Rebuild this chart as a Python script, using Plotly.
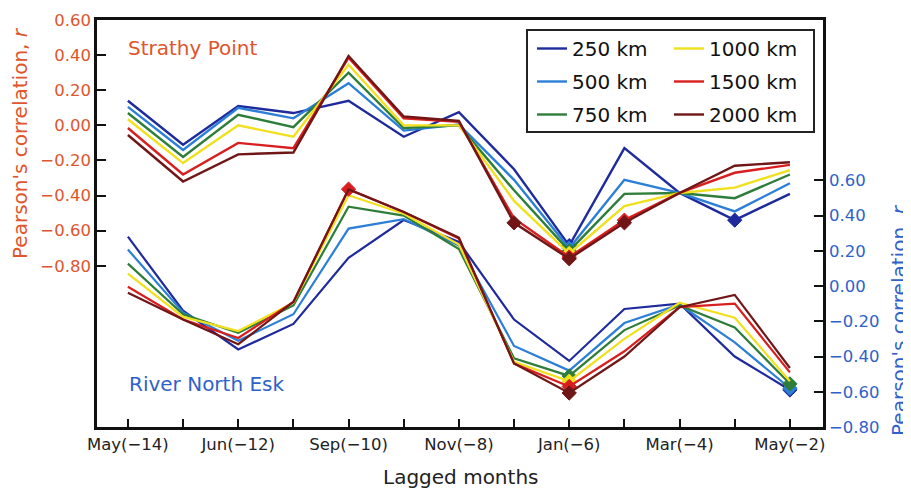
import plotly.graph_objects as go

# ---------------- data ----------------
lags = [-14, -13, -12, -11, -10, -9, -8, -7, -6, -5, -4, -3, -2]
tick_text = ["May(−14)", "", "Jun(−12)", "", "Sep(−10)", "", "Nov(−8)", "",
             "Jan(−6)", "", "Mar(−4)", "", "May(−2)"]

series_names = ["250 km", "500 km", "750 km", "1000 km", "1500 km", "2000 km"]
series_colors = ["#1f2a9c", "#2b7fd6", "#2e7d3a", "#f0e01e", "#d81e1e", "#701616"]

# Strathy Point (left axis)
strathy = {
    "250 km":  [0.14, -0.11, 0.11, 0.07, 0.14, -0.065, 0.075, -0.25, -0.685, -0.13, -0.385, -0.54, -0.39],
    "500 km":  [0.105, -0.14, 0.10, 0.04, 0.24, -0.03, 0.005, -0.31, -0.70, -0.31, -0.385, -0.49, -0.33],
    "750 km":  [0.07, -0.18, 0.06, -0.01, 0.30, -0.015, 0.0, -0.37, -0.715, -0.39, -0.385, -0.415, -0.28],
    "1000 km": [0.035, -0.215, 0.0, -0.065, 0.345, 0.0, 0.0, -0.43, -0.73, -0.46, -0.385, -0.355, -0.255],
    "1500 km": [-0.015, -0.28, -0.10, -0.13, 0.385, 0.04, 0.02, -0.53, -0.75, -0.54, -0.385, -0.27, -0.225],
    "2000 km": [-0.055, -0.32, -0.165, -0.155, 0.395, 0.05, 0.025, -0.555, -0.76, -0.555, -0.385, -0.23, -0.21],
}
strathy_marked = {
    "250 km": [-6, -3], "500 km": [-6], "750 km": [-6], "1000 km": [-6],
    "1500 km": [-6, -5], "2000 km": [-7, -6, -5],
}

# River North Esk (right axis)
esk = {
    "250 km":  [0.28, -0.14, -0.36, -0.215, 0.16, 0.375, 0.25, -0.19, -0.425, -0.13, -0.10, -0.40, -0.59],
    "500 km":  [0.207, -0.15, -0.31, -0.16, 0.326, 0.38, 0.23, -0.34, -0.48, -0.21, -0.105, -0.32, -0.58],
    "750 km":  [0.127, -0.16, -0.265, -0.11, 0.45, 0.40, 0.21, -0.41, -0.51, -0.25, -0.11, -0.235, -0.555],
    "1000 km": [0.07, -0.175, -0.255, -0.095, 0.515, 0.41, 0.235, -0.43, -0.54, -0.30, -0.095, -0.18, -0.54],
    "1500 km": [-0.004, -0.19, -0.295, -0.09, 0.55, 0.42, 0.27, -0.44, -0.57, -0.37, -0.12, -0.10, -0.49],
    "2000 km": [-0.038, -0.19, -0.33, -0.09, 0.548, 0.42, 0.275, -0.44, -0.607, -0.40, -0.12, -0.05, -0.465],
}
esk_marked = {
    "250 km": [-2], "500 km": [-2], "750 km": [-6, -2], "1000 km": [-6],
    "1500 km": [-10, -6], "2000 km": [-6],
}

left_ticks = [0.60, 0.40, 0.20, 0.00, -0.20, -0.40, -0.60, -0.80]
right_ticks = [0.60, 0.40, 0.20, 0.00, -0.20, -0.40, -0.60, -0.80]

FONT = "DejaVu Sans"
ORANGE = "#e0552c"
BLUE = "#2f62c8"

# the page body has an 8px margin, so the figure is drawn at (8, 8);
# the figure is sized to end exactly at the window edge.
OFF = 8
W, H = 911 - OFF, 489 - OFF
plot_l, plot_r, plot_t, plot_b = 97 - OFF, 823 - OFF, 20 - OFF, 427 - OFF
pw, ph = plot_r - plot_l, plot_b - plot_t


def px_x(x):
    return (x - OFF - plot_l) / pw


def px_y(y):
    return 1 - (y - OFF - plot_t) / ph


def add_group(data, marked, axis, width, in_legend):
    for i, (name, color) in enumerate(zip(series_names, series_colors)):
        fig.add_trace(go.Scatter(
            x=lags, y=data[name], yaxis=axis, mode="lines",
            line=dict(color=color, width=width),
            name=name, legendgroup=name, showlegend=in_legend,
            legend="legend" if i < 3 else "legend2", hoverinfo="skip"))
        mx = [lag for lag in lags if lag in marked[name]]
        my = [v for lag, v in zip(lags, data[name]) if lag in marked[name]]
        if mx:
            fig.add_trace(go.Scatter(
                x=mx, y=my, yaxis=axis, mode="markers",
                marker=dict(symbol="diamond", size=11, color=color, opacity=1,
                            line=dict(width=1, color=color)),
                showlegend=False, hoverinfo="skip"))


fig = go.Figure()
add_group(esk, esk_marked, "y2", 2.2, False)
add_group(strathy, strathy_marked, "y", 2.4, True)

legend_common = dict(
    font=dict(family=FONT, size=20, color="#111"),
    bgcolor="rgba(0,0,0,0)", borderwidth=0,
    xanchor="left", yanchor="top", tracegroupgap=4,
    itemwidth=30,
)

fig.update_layout(
    width=W, height=H,
    margin=dict(l=plot_l, r=W - plot_r, t=plot_t, b=H - plot_b, autoexpand=False),
    paper_bgcolor="white", plot_bgcolor="white",
    font=dict(family=FONT),
    showlegend=True,
    legend=dict(x=px_x(532), y=px_y(29), **legend_common),
    legend2=dict(x=px_x(669), y=px_y(29), **legend_common),
    xaxis=dict(
        range=[-14.56, -1.40], tickmode="array", tickvals=lags, ticktext=tick_text,
        ticks="inside", ticklen=8, tickwidth=2, tickcolor="#111",
        showline=True, linewidth=2.5, linecolor="#111", mirror=True,
        showgrid=False, zeroline=False, automargin=False,
        tickfont=dict(family=FONT, size=16.5, color="#222"),
    ),
    yaxis=dict(
        range=[-1.718, 0.60], tickmode="array", tickvals=left_ticks,
        ticktext=[f"{v:.2f}".replace("-", "−") for v in left_ticks],
        ticks="inside", ticklen=9, tickwidth=2, tickcolor="#111",
        showline=True, linewidth=2.5, linecolor="#111",
        showgrid=False, zeroline=False, automargin=False,
        tickfont=dict(family=FONT, size=16.5, color=ORANGE),
    ),
    yaxis2=dict(
        range=[-0.80, 1.51], overlaying="y", side="right", tickmode="array",
        tickvals=right_ticks,
        ticktext=[f"{v:.2f}".replace("-", "−") for v in right_ticks],
        ticks="inside", ticklen=9, tickwidth=2, tickcolor="#111",
        showline=True, linewidth=2.5, linecolor="#111",
        showgrid=False, zeroline=False, automargin=False,
        tickfont=dict(family=FONT, size=16.5, color=BLUE),
    ),
    shapes=[dict(type="rect", xref="paper", yref="paper",
                 x0=px_x(527), x1=px_x(814), y0=px_y(132), y1=px_y(30),
                 line=dict(color="#222", width=2), fillcolor="rgba(0,0,0,0)")],
    annotations=[
        dict(text="Strathy Point", xref="paper", yref="paper", x=px_x(126), y=px_y(48),
             xanchor="left", yanchor="middle", showarrow=False,
             font=dict(family=FONT, size=20, color=ORANGE)),
        dict(text="River North Esk", xref="paper", yref="paper", x=px_x(127), y=px_y(384),
             xanchor="left", yanchor="middle", showarrow=False,
             font=dict(family=FONT, size=20, color=BLUE)),
        dict(text="Lagged months", xref="paper", yref="paper", x=px_x(460), y=px_y(477),
             xanchor="center", yanchor="middle", showarrow=False,
             font=dict(family=FONT, size=20, color="#222")),
        dict(text="Pearson's correlation, <i>r</i>", xref="paper", yref="paper",
             x=px_x(20), y=px_y(143), xanchor="center", yanchor="middle",
             textangle=-90, showarrow=False,
             font=dict(family=FONT, size=20, color=ORANGE)),
        dict(text="Pearson's correlation, <i>r</i>", xref="paper", yref="paper",
             x=px_x(899), y=px_y(320), xanchor="center", yanchor="middle",
             textangle=-90, showarrow=False,
             font=dict(family=FONT, size=20, color=BLUE)),
    ],
)

fig.write_html("out.html")
